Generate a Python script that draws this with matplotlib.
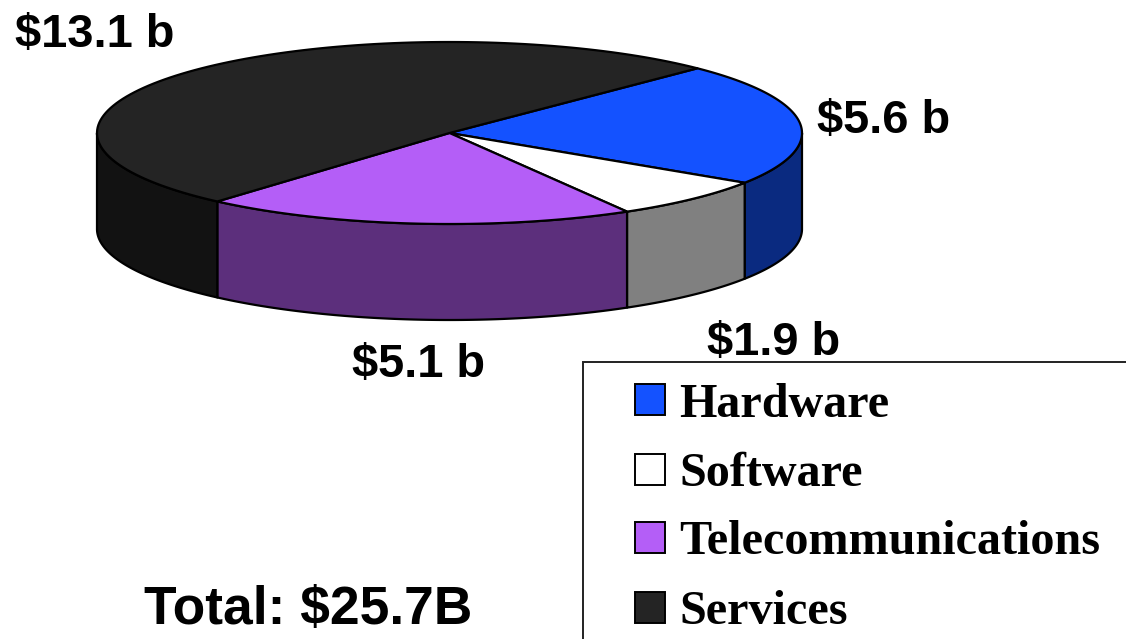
import numpy as np
import matplotlib
matplotlib.use("Agg")
import matplotlib.pyplot as plt
from matplotlib.patches import Polygon, Rectangle

categories = ["Hardware", "Software", "Telecommunications", "Services"]
values = [5.6, 1.9, 5.1, 13.1]
value_labels = ["$5.6 b", "$1.9 b", "$5.1 b", "$13.1 b"]
total_label = "Total: $25.7B"
top_colors = ["#1452FF", "#FFFFFF", "#B45EF7", "#242424"]
side_colors = ["#0A2A80", "#808080", "#5C2F7C", "#121212"]

W, H = 1126, 639
CX, CY, RX, RY, DEPTH = 449.5, 133, 352.5, 91, 96
START = 45.3

fig = plt.figure(figsize=(W / 100, H / 100), dpi=100, facecolor="white")
ax = fig.add_axes([0, 0, 1, 1])
ax.set_xlim(0, W)
ax.set_ylim(H, 0)
ax.axis("off")


def rim(a0, a1, n=120):
    t = np.radians(np.linspace(a0, a1, n))
    return CX + RX * np.cos(t), CY - RY * np.sin(t)


LW = 1.6
angles = START - np.concatenate([[0], np.cumsum(values)]) / sum(values) * 360

# side walls: only the front half of the rim (angles between -180 and 0)
for i in range(len(values)):
    lo, hi = max(angles[i + 1], -180), min(angles[i], 0)
    if hi > lo:
        x, y = rim(hi, lo)
        pts = np.r_[np.c_[x, y], np.c_[x[::-1], y[::-1] + DEPTH]]
        ax.add_patch(Polygon(pts, closed=True, fc=side_colors[i], ec="black", lw=LW, joinstyle="round"))

# top faces
for i in range(len(values)):
    x, y = rim(angles[i], angles[i + 1])
    pts = np.r_[[[CX, CY]], np.c_[x, y]]
    ax.add_patch(Polygon(pts, closed=True, fc=top_colors[i], ec="black", lw=LW, joinstyle="round"))

sans = "Liberation Sans"
serif = "Liberation Serif"
label_xy = [(817, 133), (707, 355), (352, 377), (15, 47)]
for txt, (x, y) in zip(value_labels, label_xy):
    ax.text(x, y, txt, family=sans, weight="bold", fontsize=33.8, ha="left", va="baseline", color="black")
ax.text(144, 624, total_label, family=sans, weight="bold", fontsize=38.4, ha="left", va="baseline", color="black")

# legend box, clipped by the right and bottom picture edges
ax.add_patch(Rectangle((583, 362), 600, 340, fc="white", ec="#222222", lw=1.4, zorder=3))
sw_bottom = [415, 485, 553, 623]
tx_base = [417, 486, 554, 624]
for i, c in enumerate(categories):
    ax.add_patch(Rectangle((635, sw_bottom[i] - 31), 30, 31, fc=top_colors[i], ec="black", lw=1.4, zorder=4))
    ax.text(679.5, tx_base[i], c, family=serif, weight="bold", fontsize=34.7, ha="left", va="baseline", color="black", zorder=4)

fig.savefig("out.png", dpi=100, facecolor="white")
